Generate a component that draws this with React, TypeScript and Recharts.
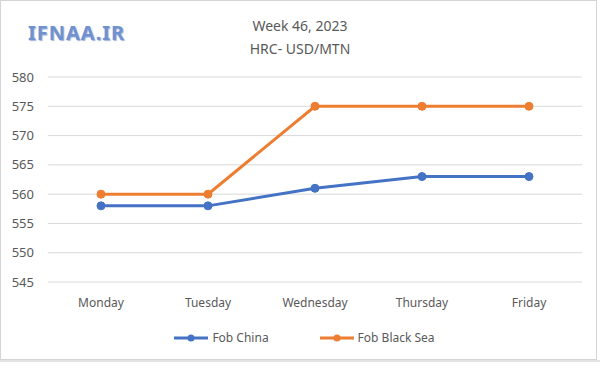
import React from 'react';
import { LineChart, Line, XAxis, YAxis, CartesianGrid } from 'recharts';

const days = ['Monday', 'Tuesday', 'Wednesday', 'Thursday', 'Friday'];
const fobChina = [558, 558, 561, 563, 563];
const fobBlackSea = [560, 560, 575, 575, 575];
const yTicks = [545, 550, 555, 560, 565, 570, 575, 580];

const data = days.map((d, i) => ({ day: d, china: fobChina[i], blackSea: fobBlackSea[i] }));

const FONT = '"Noto Sans", "Open Sans", sans-serif';
const TXT = '#595959';

const legendItems = [
  { label: 'Fob China', color: '#4472c4' },
  { label: 'Fob Black Sea', color: '#ed7d31' },
];

const LegendContent = () => (
  <div style={{ display: 'flex', justifyContent: 'center', gap: 50, fontFamily: FONT, fontSize: 12, color: TXT, paddingLeft: 8 }}>
    {legendItems.map((it) => (
      <div key={it.label} style={{ display: 'flex', alignItems: 'center' }}>
        <svg width={36} height={10} style={{ marginRight: 3 }}>
          <line x1={1} y1={5} x2={35} y2={5} stroke={it.color} strokeWidth={3} />
          <circle cx={18} cy={5} r={3.5} fill={it.color} />
        </svg>
        <span>{it.label}</span>
      </div>
    ))}
  </div>
);

export default function App() {
  return (
    <div style={{ position: 'absolute', left: 0, top: 0, width: 600, height: 370, background: '#fff' }}>
      <div style={{ position: 'absolute', left: 0, top: 0, width: 597, height: 360, border: '1px solid #d4d4d4', boxSizing: 'border-box' }} />
      <div style={{ position: 'absolute', left: 0, top: 360, width: 600, height: 2, background: '#e3e3e3' }} />
      <div style={{ position: 'absolute', left: 28, top: 19, fontFamily: FONT, fontWeight: 700, fontSize: 20, color: '#6f92cf', letterSpacing: 1, textShadow: '1px 1px 1px #9fb4dc' }}>IFNAA.IR</div>
      <div style={{ position: 'absolute', left: 0, top: 14, width: 600, textAlign: 'center', fontFamily: FONT, fontSize: 14, color: TXT, lineHeight: '23px' }}>
        <div>Week 46, 2023</div>
        <div>HRC- USD/MTN</div>
      </div>
      <LineChart width={600} height={370} data={data} margin={{ top: 77, right: 18, bottom: 58, left: 0 }} style={{ position: 'absolute', left: 0, top: 0 }}>
        <CartesianGrid horizontal vertical={false} stroke="#d9d9d9" strokeWidth={1} />
        <XAxis dataKey="day" height={30} padding={{ left: 53, right: 53 }} axisLine={false} tickLine={false} tickMargin={10} tick={{ fill: TXT, fontSize: 12, fontFamily: FONT }} />
        <YAxis width={48} domain={[545, 580]} ticks={yTicks} axisLine={false} tickLine={false} tickMargin={8} tick={{ fill: TXT, fontSize: 13, fontFamily: FONT }} />
        <Line dataKey="china" name="Fob China" stroke="#4472c4" strokeWidth={3} dot={{ r: 4, fill: '#4472c4', stroke: '#4472c4', strokeWidth: 1 }} isAnimationActive={false} />
        <Line dataKey="blackSea" name="Fob Black Sea" stroke="#ed7d31" strokeWidth={3} dot={{ r: 4, fill: '#ed7d31', stroke: '#ed7d31', strokeWidth: 1 }} isAnimationActive={false} />
      </LineChart>
      <div style={{ position: 'absolute', left: 0, top: 329, width: 600 }}>
        <LegendContent />
      </div>
    </div>
  );
}
